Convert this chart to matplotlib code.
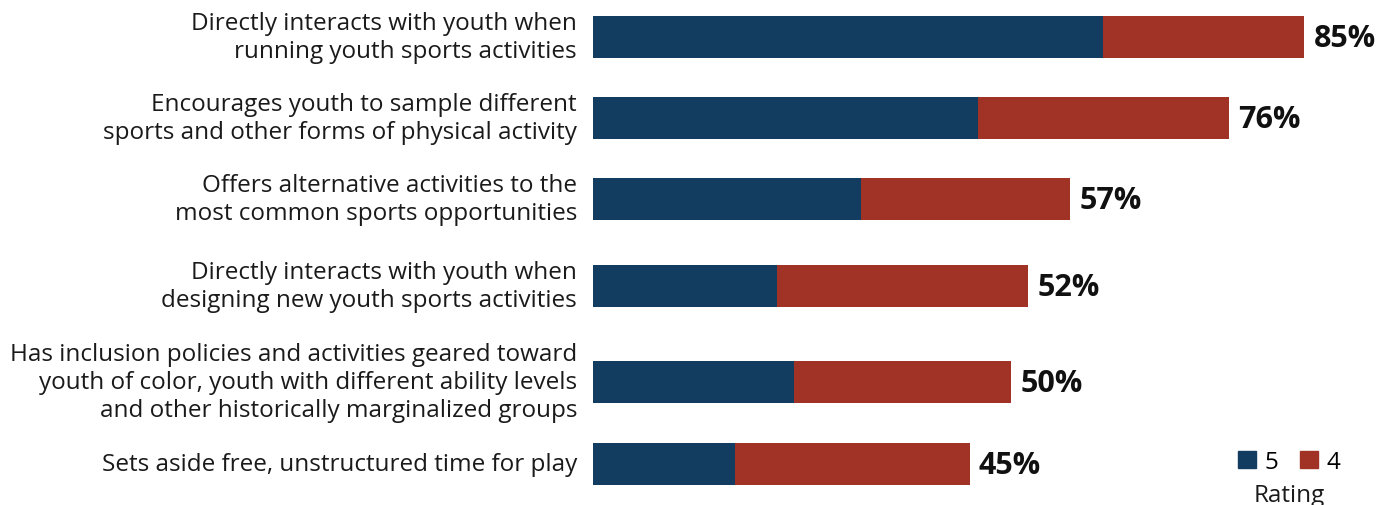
import matplotlib.pyplot as plt
from matplotlib.patches import Patch

# survey items, top to bottom
items = [
    "Directly interacts with youth when\nrunning youth sports activities",
    "Encourages youth to sample different\nsports and other forms of physical activity",
    "Offers alternative activities to the\nmost common sports opportunities",
    "Directly interacts with youth when\ndesigning new youth sports activities",
    "Has inclusion policies and activities geared toward\nyouth of color, youth with different ability levels\nand other historically marginalized groups",
    "Sets aside free, unstructured time for play",
]
rating5 = [61, 46, 32, 22, 24, 17]
rating4 = [24, 30, 25, 30, 26, 28]
totals = [85, 76, 57, 52, 50, 45]

# row centres (axis units, top = 0), taller gap around the 3-line label
row_y = [37, 118, 199, 286, 382, 464]

c5 = '#123c60'
c4 = '#a03226'

plt.rcParams['font.family'] = ['Open Sans', 'DejaVu Sans']

fig = plt.figure(figsize=(13.91, 5.06), dpi=100)
ax = fig.add_axes([593/1391, 0, 795/1391, 1])
ax.set_xlim(0, 95)
ax.set_ylim(505, -1)
ax.axis('off')

ax.barh(row_y, rating5, height=42, color=c5)
ax.barh(row_y, rating4, left=rating5, height=42, color=c4)

for y, lab, tot in zip(row_y, items, totals):
    ax.text(-1.9, y, lab, ha='right', va='center', fontsize=17.5,
            linespacing=1.22, color='#1a1a1a')
    ax.text(tot + 1.1, y + 1, '%d%%' % tot, ha='left', va='center',
            fontsize=22, fontweight='bold', color='#111111')

handles = [Patch(color=c5, label='5'), Patch(color=c4, label='4')]
fig.legend(handles=handles, ncol=2, loc='center', bbox_to_anchor=(1289/1391, 1 - 463/506),
           frameon=False, fontsize=17.5, handlelength=0.75, handleheight=0.75,
           handletextpad=0.35, columnspacing=0.9, borderpad=0)
fig.text(1289/1391, 1 - 496/506, 'Rating', ha='center', va='center', fontsize=17.5,
         color='#1a1a1a')

fig.savefig('out.png', dpi=100)
